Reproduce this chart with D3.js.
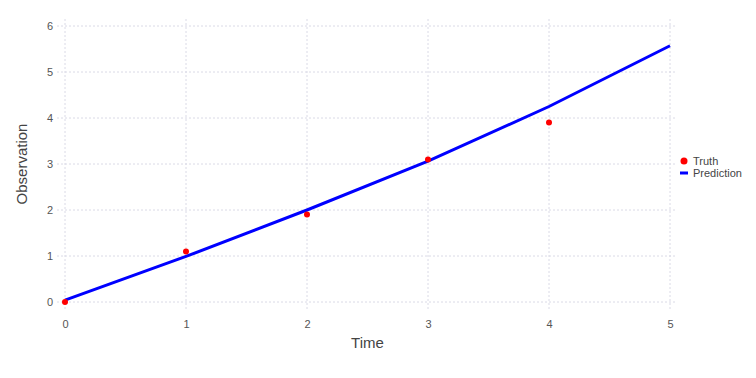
<!DOCTYPE html>
<html>
<head>
<meta charset="utf-8">
<script src="https://cdn.jsdelivr.net/npm/d3@7"></script>
<style>
  body { margin: 0; background: #fff; }
  svg { font-family: "Liberation Sans", Arial, sans-serif; }
</style>
</head>
<body>
<svg width="756" height="378"></svg>
<script>
const times = [0, 1, 2, 3, 4, 5];
const truthTimes = [0, 1, 2, 3, 4];
const truthValues = [0, 1.1, 1.9, 3.1, 3.9];
const predValues = [0.04, 0.99, 2.0, 3.06, 4.25, 5.57];
const xTicks = [0, 1, 2, 3, 4, 5];
const yTicks = [0, 1, 2, 3, 4, 5, 6];

const svg = d3.select('svg');
const width = +svg.attr('width');
const height = +svg.attr('height');
const margin = { top: 26, right: 86, bottom: 76, left: 65 };

const xScale = d3.scaleLinear()
    .domain([0, 5])
    .range([margin.left, width - margin.right]);

const yScale = d3.scaleLinear()
    .domain([0, 6])
    .range([height - margin.bottom, margin.top]);

const gridColor = '#dadae6';
const textColor = '#555';

// grid
const grid = svg.append('g');
grid.selectAll('line.h')
    .data(yTicks)
    .join('line')
        .attr('class', 'h')
        .attr('x1', margin.left - 8)
        .attr('x2', width - margin.right + 7)
        .attr('y1', d => yScale(d))
        .attr('y2', d => yScale(d))
        .attr('stroke', gridColor)
        .attr('stroke-dasharray', '2,2');
grid.selectAll('line.v')
    .data(xTicks)
    .join('line')
        .attr('class', 'v')
        .attr('x1', d => xScale(d))
        .attr('x2', d => xScale(d))
        .attr('y1', margin.top - 7)
        .attr('y2', height - margin.bottom + 8)
        .attr('stroke', gridColor)
        .attr('stroke-dasharray', '2,2');

// axes (labels only)
const xAxis = g => g
    .attr('transform', `translate(0,${height - margin.bottom + 10})`)
    .call(d3.axisBottom(xScale).tickValues(xTicks).tickFormat(d3.format('d')).tickSize(0).tickPadding(8))
    .call(g => g.select('.domain').remove());

const yAxis = g => g
    .attr('transform', `translate(${margin.left - 10},0)`)
    .call(d3.axisLeft(yScale).tickValues(yTicks).tickFormat(d3.format('d')).tickSize(0).tickPadding(2))
    .call(g => g.select('.domain').remove());

svg.append('g').call(xAxis)
    .call(g => g.selectAll('text').attr('fill', textColor).attr('font-size', 11));
svg.append('g').call(yAxis)
    .call(g => g.selectAll('text').attr('fill', textColor).attr('font-size', 11));

// axis titles
svg.append('text')
    .attr('x', (margin.left + width - margin.right) / 2)
    .attr('y', 348)
    .attr('text-anchor', 'middle')
    .attr('fill', '#444')
    .attr('font-size', 15)
    .text('Time');

svg.append('text')
    .attr('transform', `translate(27,${(margin.top + height - margin.bottom) / 2}) rotate(-90)`)
    .attr('text-anchor', 'middle')
    .attr('fill', '#444')
    .attr('font-size', 15)
    .text('Observation');

// prediction line
const line = d3.line()
    .x((d, i) => xScale(times[i]))
    .y(d => yScale(d));

svg.append('path')
    .datum(predValues)
    .attr('fill', 'none')
    .attr('stroke', '#0000ff')
    .attr('stroke-width', 3)
    .attr('d', line);

// truth points
svg.append('g')
    .selectAll('circle')
    .data(truthValues)
    .join('circle')
        .attr('cx', (d, i) => xScale(truthTimes[i]))
        .attr('cy', d => yScale(d))
        .attr('r', 3)
        .attr('fill', '#ff0000');

// legend
const legend = svg.append('g').attr('transform', 'translate(684,161)');
legend.append('circle').attr('cx', 0).attr('cy', 0).attr('r', 3.5).attr('fill', '#ff0000');
legend.append('line').attr('x1', -4).attr('x2', 4).attr('y1', 12).attr('y2', 12)
    .attr('stroke', '#0000ff').attr('stroke-width', 3);
legend.append('text').attr('x', 9).attr('y', 4).attr('font-size', 11).attr('fill', '#444').text('Truth');
legend.append('text').attr('x', 9).attr('y', 16).attr('font-size', 11).attr('fill', '#444').text('Prediction');
</script>
</body>
</html>
